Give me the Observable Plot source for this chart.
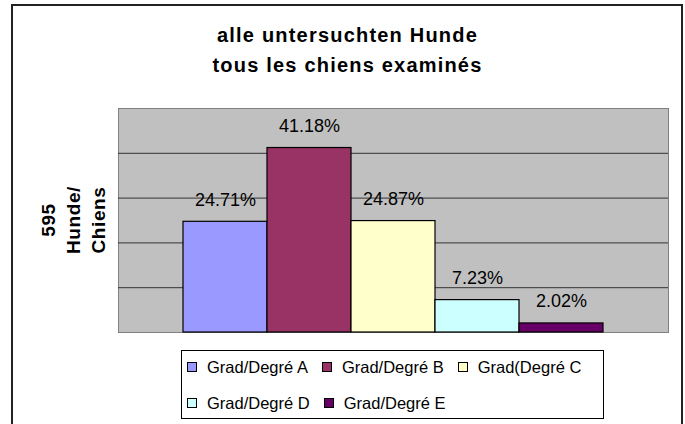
<!DOCTYPE html>
<html>
<head>
<meta charset="utf-8">
<script src="https://cdn.jsdelivr.net/npm/d3@7"></script>
<script src="https://cdn.jsdelivr.net/npm/@observablehq/plot@0.6"></script>
<style>
  html, body { margin: 0; padding: 0; background: #fff; }
  #wrap { position: relative; width: 685px; height: 424px; overflow: hidden; font-family: Arial, "Liberation Sans", sans-serif; }
  #border { position: absolute; left: 11px; top: 4px; width: 672px; height: 440px; border: 2px solid #222; box-sizing: border-box; }
  #chart { position: absolute; left: 0; top: 0; }
  #title { position: absolute; left: 12px; width: 671px; top: 20px; text-align: center; font-weight: bold; font-size: 20px; letter-spacing: 1.2px; line-height: 30px; color: #000; }
  #ylab { position: absolute; left: 73px; top: 220px; transform: translate(-50%, -50%) rotate(-90deg); text-align: center; font-weight: bold; font-size: 19px; letter-spacing: 0.6px; line-height: 25px; white-space: nowrap; color: #000; }
  #legend { position: absolute; left: 181px; top: 350px; width: 423px; height: 69px; border: 1px solid #000; box-sizing: border-box; background: #fff; }
  .row { display: flex; height: 36px; align-items: center; padding-left: 5px; white-space: nowrap; }
  .row:first-child { margin-top: -2px; }
  .item { display: flex; align-items: center; margin-right: 14px; font-size: 16.5px; color: #000; }
  .sw { width: 8px; height: 8px; border: 1px solid #000; margin-right: 10px; flex: none; }
</style>
</head>
<body>
<div id="wrap">
  <div id="border"></div>
  <div id="chart"></div>
  <div id="title"></div>
  <div id="ylab"></div>
  <div id="legend"></div>
</div>
<script>
const titleLines = ["alle untersuchten Hunde", "tous les chiens examinés"];
const yLabelLines = ["595", "Hunde/", "Chiens"];
const categories = ["Grad/Degré A", "Grad/Degré B", "Grad(Degré C", "Grad/Degré D", "Grad/Degré E"];
const values = [24.71, 41.18, 24.87, 7.23, 2.02];
const valueLabels = ["24.71%", "41.18%", "24.87%", "7.23%", "2.02%"];
const colors = ["#9999FF", "#993366", "#FFFFCC", "#CCFFFF", "#660066"];
const yTicks = [10, 20, 30, 40];

const data = categories.map((c, i) => ({cat: c, value: values[i], label: valueLabels[i]}));

const chart = Plot.plot({
  width: 685,
  height: 424,
  marginLeft: 118,
  marginRight: 17,
  marginTop: 108,
  marginBottom: 92,
  style: {background: "transparent", fontFamily: "Arial, 'Liberation Sans', sans-serif"},
  x: {domain: categories, paddingInner: 0, paddingOuter: 0.745, axis: null},
  y: {domain: [0, 50], axis: null},
  color: {domain: categories, range: colors},
  marks: [
    Plot.frame({fill: "#C0C0C0", stroke: "#808080", strokeWidth: 1}),
    Plot.gridY(yTicks, {stroke: "#333", strokeOpacity: 1, strokeWidth: 1}),
    Plot.barY(data, {x: "cat", y: "value", fill: "cat", stroke: "#000", strokeWidth: 1.2}),
    Plot.text(data, {x: "cat", y: "value", text: "label", dy: -22, fontSize: 18, fill: "#000"})
  ]
});
document.getElementById("chart").appendChild(chart);

document.getElementById("title").innerHTML = titleLines.join("<br>");
document.getElementById("ylab").innerHTML = yLabelLines.join("<br>");

const legend = document.getElementById("legend");
for (let r = 0; r < categories.length; r += 3) {
  const row = document.createElement("div");
  row.className = "row";
  categories.slice(r, r + 3).forEach((c, j) => {
    const item = document.createElement("div");
    item.className = "item";
    const sw = document.createElement("span");
    sw.className = "sw";
    sw.style.background = colors[r + j];
    const t = document.createElement("span");
    t.textContent = c;
    item.appendChild(sw);
    item.appendChild(t);
    row.appendChild(item);
  });
  legend.appendChild(row);
}
</script>
</body>
</html>
